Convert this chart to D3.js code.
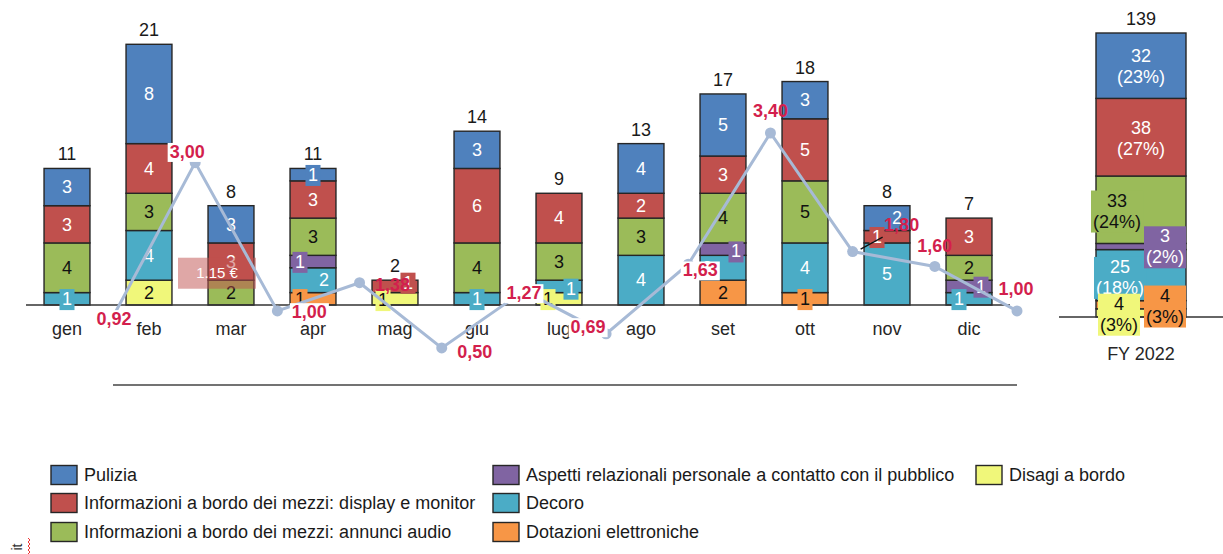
<!DOCTYPE html>
<html>
<head>
<meta charset="utf-8">
<script src="https://cdn.jsdelivr.net/npm/d3@7"></script>
<style>
  html, body { margin: 0; padding: 0; background: #fff; }
  svg { display: block; font-family: "Liberation Sans", Arial, sans-serif; }
</style>
</head>
<body>
<svg id="chart" width="1223" height="554"></svg>
<script>
// ---- data ----------------------------------------------------------------
const months = ["gen", "feb", "mar", "apr", "mag", "giu", "lug", "ago", "set", "ott", "nov", "dic"];
const seriesKeys = ["pulizia", "display", "audio", "aspetti", "decoro", "dotazioni", "disagi"];
const seriesNames = [
  "Pulizia",
  "Informazioni a bordo dei mezzi: display e monitor",
  "Informazioni a bordo dei mezzi: annunci audio",
  "Aspetti relazionali personale a contatto con il pubblico",
  "Decoro",
  "Dotazioni elettroniche",
  "Disagi a bordo"
];
const pulizia   = [3, 8, 3, 1, 0, 3, 0, 4, 5, 3, 2, 0];
const display   = [3, 4, 3, 3, 1, 6, 4, 2, 3, 5, 1, 3];
const audio     = [4, 3, 2, 3, 0, 4, 3, 3, 4, 5, 0, 2];
const aspetti   = [0, 0, 0, 1, 0, 0, 0, 0, 1, 0, 0, 1];
const decoro    = [1, 4, 0, 2, 0, 1, 1, 4, 2, 4, 5, 1];
const dotazioni = [0, 0, 0, 1, 0, 0, 0, 0, 2, 1, 0, 0];
const disagi    = [0, 2, 0, 0, 1, 0, 1, 0, 0, 0, 0, 0];
const costPerMonth = [0.92, 3.00, 1.00, 1.38, 0.50, 1.27, 0.69, 1.63, 3.40, 1.80, 1.60, 1.00];
const fyLabel = "FY 2022";
const noteText = "1.15 €";

// ---- styling ---------------------------------------------------------------
const colors = {
  pulizia: "#4f81bd", display: "#c0504d", audio: "#9bbb59", aspetti: "#8064a2",
  decoro: "#4bacc6", dotazioni: "#f79646", disagi: "#f0f77a"
};
const lightText = new Set(["pulizia", "display", "aspetti", "decoro"]);
const lineColor = "#a7bad6";
const valueRed = "#d31f4d";
const strokeDark = "#262626";

const values = { pulizia, display, audio, aspetti, decoro, dotazioni, disagi };
const stackOrder = seriesKeys.slice().reverse();           // bottom → top
const rows = months.map((m, i) => {
  const r = { month: m };
  seriesKeys.forEach(k => r[k] = values[k][i]);
  return r;
});
const monthTotals = rows.map(r => d3.sum(seriesKeys, k => r[k]));
const fyRow = { month: fyLabel };
seriesKeys.forEach(k => fyRow[k] = d3.sum(values[k]));
const fyTotal = d3.sum(seriesKeys, k => fyRow[k]);

const svg = d3.select("#chart");

// ---- monthly stacked bars ----------------------------------------------
const x = d3.scaleBand().domain(months).range([26, 1010]).paddingInner(0.44).paddingOuter(0.22);
const y = d3.scaleLinear().domain([0, 21]).range([305, 44.3]);

const stack = d3.stack().keys(stackOrder);
const layers = stack(rows);

const gBars = svg.append("g");
layers.forEach(layer => {
  const key = layer.key;
  gBars.selectAll(null)
    .data(layer.filter(d => d[1] - d[0] > 0))
    .join("rect")
    .attr("x", d => x(d.data.month))
    .attr("width", x.bandwidth())
    .attr("y", d => y(d[1]))
    .attr("height", d => y(d[0]) - y(d[1]))
    .attr("fill", colors[key])
    .attr("stroke", strokeDark)
    .attr("stroke-width", 1.4);
});

// baseline of the bar chart
svg.append("line").attr("x1", 26).attr("x2", 1010).attr("y1", y(0)).attr("y2", y(0))
  .attr("stroke", "#333").attr("stroke-width", 1.4);

// month axis
const xAxis = svg.append("g").attr("transform", `translate(0,${y(0)})`)
  .call(d3.axisBottom(x).tickSize(0).tickPadding(17));
xAxis.select(".domain").remove();
xAxis.selectAll("text").attr("font-size", 18).attr("fill", "#262626")
  .attr("font-family", "Liberation Sans, Arial, sans-serif");

// segment labels; small segments get a box of their own colour
const segNudge = {
  "apr|aspetti": [-13, 0], "apr|dotazioni": [-13, 0], "apr|decoro": [11, 0],
  "mag|disagi": [-12, 1], "mag|display": [13, -4],
  "lug|disagi": [-11, 0], "lug|decoro": [12, 2],
  "set|aspetti": [13, 2], "set|decoro": [-16, 0],
  "nov|display": [-10, 0], "nov|pulizia": [10, 0],
  "dic|decoro": [-10, 0], "dic|aspetti": [12, 0]
};
const gSeg = svg.append("g").attr("font-size", 18);
layers.forEach(layer => {
  const key = layer.key;
  layer.forEach(d => {
    const v = d[1] - d[0];
    if (v <= 0) return;
    const m = d.data.month;
    const nd = segNudge[m + "|" + key] || [0, 0];
    const cx = x(m) + x.bandwidth() / 2 + nd[0];
    const cy = (y(d[0]) + y(d[1])) / 2 + nd[1];
    const g = gSeg.append("g");
    const t = g.append("text").attr("x", cx).attr("y", cy).attr("dy", "0.35em")
      .attr("text-anchor", "middle")
      .attr("fill", lightText.has(key) ? "#fff" : "#111")
      .text(v);
    if (v === 1) {
      const b = t.node().getBBox();
      g.insert("rect", "text").attr("x", b.x - 2.5).attr("y", b.y).attr("width", b.width + 5)
        .attr("height", b.height + 1).attr("fill", colors[key]);
    }
  });
});

// totals above bars
svg.append("g").selectAll("text").data(rows).join("text")
  .attr("x", d => x(d.month) + x.bandwidth() / 2)
  .attr("y", (d, i) => y(monthTotals[i]) - 8)
  .attr("text-anchor", "middle").attr("font-size", 18).attr("fill", "#1a1a1a")
  .text((d, i) => monthTotals[i]);

// translucent note on March
const noteX = x("mar") + x.bandwidth() / 2 - 14;
const noteY = y(2.6);
svg.append("rect").attr("x", noteX - 39).attr("y", noteY - 15).attr("width", 78).attr("height", 31)
  .attr("fill", "#c0504d").attr("fill-opacity", 0.5);
svg.append("text").attr("x", noteX).attr("y", noteY).attr("dy", "0.35em")
  .attr("text-anchor", "middle").attr("font-size", 15).attr("fill", "#fff").text(noteText);

// ---- FY total bar ----------------------------------------------------------
const xf = d3.scaleBand().domain([fyLabel]).range([1096, 1186]);
const yf = d3.scaleLinear().domain([0, fyTotal]).range([317, 33]);
const fyLayers = stack([fyRow]);
fyLayers.forEach(layer => {
  const d = layer[0];
  svg.append("rect").attr("x", xf(fyLabel)).attr("width", xf.bandwidth())
    .attr("y", yf(d[1])).attr("height", yf(d[0]) - yf(d[1]))
    .attr("fill", colors[layer.key]).attr("stroke", strokeDark).attr("stroke-width", 1.4);
});
svg.append("line").attr("x1", 1059).attr("x2", 1223).attr("y1", yf(0)).attr("y2", yf(0))
  .attr("stroke", "#333").attr("stroke-width", 1.4);
svg.append("text").attr("x", xf(fyLabel) + xf.bandwidth() / 2).attr("y", yf(0) + 43)
  .attr("text-anchor", "middle").attr("font-size", 18).attr("fill", "#262626").text(fyLabel);
svg.append("text").attr("x", xf(fyLabel) + xf.bandwidth() / 2).attr("y", yf(fyTotal) - 8)
  .attr("text-anchor", "middle").attr("font-size", 18).attr("fill", "#1a1a1a").text(fyTotal);

const fyNudge = {
  pulizia: [0, 1, false], display: [0, 1, false], audio: [-24, 1, true],
  decoro: [-21, 2, true], aspetti: [24, 0, true], dotazioni: [24, 1, true], disagi: [-22, 1, true]
};
const fyDrawOrder = ["pulizia", "display", "audio", "decoro", "aspetti", "dotazioni", "disagi"];
const fySeg = {};
fyLayers.forEach(l => fySeg[l.key] = l[0]);
fyDrawOrder.forEach(key => {
  const d = fySeg[key];
  const v = d[1] - d[0];
  const nd = fyNudge[key];
  const cx = xf(fyLabel) + xf.bandwidth() / 2 + nd[0];
  const cy = (yf(d[0]) + yf(d[1])) / 2 + nd[1];
  const g = svg.append("g").attr("font-size", 18);
  const t = g.append("text").attr("text-anchor", "middle")
    .attr("fill", lightText.has(key) ? "#fff" : "#111");
  t.append("tspan").attr("x", cx).attr("y", cy - 10.5).attr("dy", "0.35em").text(v);
  t.append("tspan").attr("x", cx).attr("y", cy + 10.5).attr("dy", "0.35em")
    .text(`(${Math.round(v / fyTotal * 100)}%)`);
  if (nd[2]) {
    const b = t.node().getBBox();
    g.insert("rect", "text").attr("x", b.x - 2).attr("y", b.y).attr("width", b.width + 4)
      .attr("height", b.height + 1).attr("fill", colors[key]);
  }
});

// ---- cost line -------------------------------------------------------------
const xl = d3.scalePoint().domain(months).range([113, 1017]);
const yl = d3.scaleLinear().domain([0, 3.4]).range([385, 133]);

svg.append("line").attr("x1", xl.range()[0]).attr("x2", xl.range()[1])
  .attr("y1", yl(0)).attr("y2", yl(0)).attr("stroke", "#444").attr("stroke-width", 1.4);

svg.append("path").datum(costPerMonth)
  .attr("d", d3.line().x((d, i) => xl(months[i])).y(d => yl(d)))
  .attr("fill", "none").attr("stroke", lineColor).attr("stroke-width", 3);
svg.append("g").selectAll("circle").data(costPerMonth).join("circle")
  .attr("cx", (d, i) => xl(months[i])).attr("cy", d => yl(d)).attr("r", 5.5)
  .attr("fill", lineColor);

// leader line for the 1,80 value
const ldX = xl(months[9]), ldY = yl(costPerMonth[9]);
svg.append("line").attr("x1", ldX + 8).attr("y1", ldY - 2.5).attr("x2", ldX + 30).attr("y2", ldY - 14.5)
  .attr("stroke", "#111").attr("stroke-width", 1.3);

const lineLabelPos = [
  [1, 2, true], [-8, -11, true], [32, 1, true], [33, 2, false], [33, 4, false], [0, 2, true],
  [-18, -7, true], [12, 6, true], [0, -22, false], [49, -27, false], [0, -21, false], [-1, -22, false]
];
const fmt = v => v.toFixed(2).replace(".", ",");
costPerMonth.forEach((v, i) => {
  const p = lineLabelPos[i];
  const g = svg.append("g");
  const t = g.append("text").attr("x", xl(months[i]) + p[0]).attr("y", yl(v) + p[1]).attr("dy", "0.35em")
    .attr("text-anchor", "middle").attr("font-size", 18).attr("font-weight", "bold")
    .attr("fill", valueRed).text(fmt(v));
  if (p[2]) {
    const b = t.node().getBBox();
    g.insert("rect", "text").attr("x", b.x - 2).attr("y", b.y + 1).attr("width", b.width + 4)
      .attr("height", b.height - 1).attr("fill", "#fff");
  }
});

// ---- legend ----------------------------------------------------------------
const legendCols = [[0, 1, 2], [3, 4, 5], [6]];
const legendX = [51, 493, 976];
const legendY = [475, 503, 532];
const gLeg = svg.append("g").attr("font-size", 18).attr("fill", "#1a1a1a");
legendCols.forEach((col, ci) => {
  col.forEach((si, ri) => {
    const key = seriesKeys[si];
    gLeg.append("rect").attr("x", legendX[ci]).attr("y", legendY[ri] - 9.5)
      .attr("width", 26).attr("height", 19).attr("fill", colors[key])
      .attr("stroke", strokeDark).attr("stroke-width", 1.4);
    gLeg.append("text").attr("x", legendX[ci] + 33).attr("y", legendY[ri]).attr("dy", "0.35em")
      .text(seriesNames[si]);
  });
});

// small language marker at the bottom-left corner
svg.append("text").attr("transform", "translate(22,547) rotate(-90)")
  .attr("font-size", 14).attr("fill", "#333").attr("text-anchor", "middle")
  .text("it");
svg.append("path").attr("d", "M28,538 l2,2 l-2,2 l2,2 l-2,2 l2,2 l-2,2 l2,2 l-2,2")
  .attr("fill", "none").attr("stroke", "#e33").attr("stroke-width", 1);
</script>
</body>
</html>
